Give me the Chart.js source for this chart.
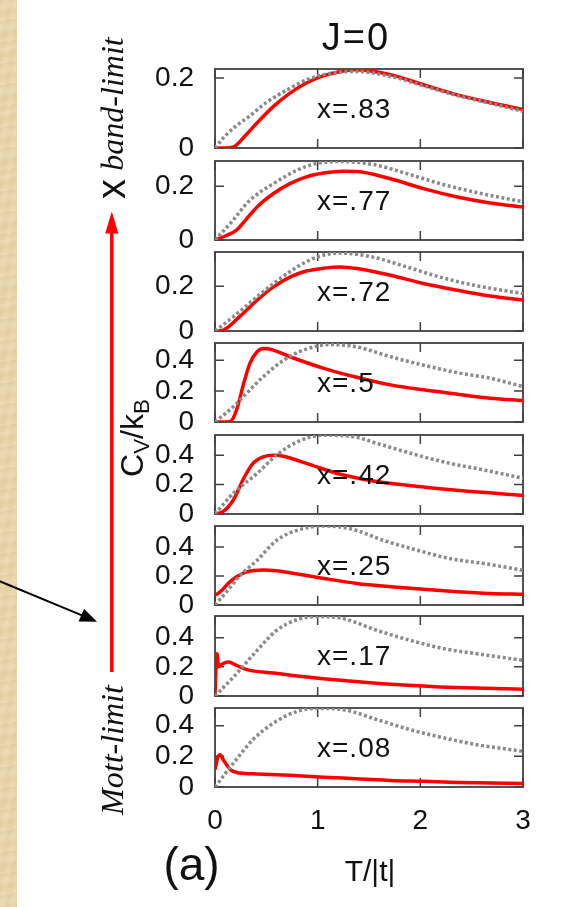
<!DOCTYPE html>
<html>
<head>
<meta charset="utf-8">
<script src="https://cdn.jsdelivr.net/npm/chart.js@4.4.0/dist/chart.umd.min.js"></script>
<style>
  html, body { margin: 0; padding: 0; background: #ffffff; }
  body { width: 575px; height: 907px; position: relative; overflow: hidden;
         font-family: "Liberation Sans", Arial, sans-serif; color: #111; }
  #parchment { position: absolute; left: 0; top: 0; width: 17px; height: 907px;
    background:
      repeating-linear-gradient(170deg, rgba(180,150,90,0.10) 0px, rgba(255,255,255,0.10) 7px, rgba(170,140,80,0.08) 13px, rgba(255,250,230,0.12) 21px),
      repeating-linear-gradient(100deg, rgba(200,170,110,0.10) 0px, rgba(255,255,255,0.08) 5px, rgba(190,160,100,0.10) 11px),
      #e9d6aa; }
  canvas.panel { position: absolute; }
  .t { position: absolute; white-space: nowrap; line-height: 1; }
  .rot { transform: translate(-50%, -50%) rotate(-90deg); }
  .serif { font-family: "Liberation Serif", "Times New Roman", serif; font-style: italic; }
  svg { position: absolute; left: 0; top: 0; }
</style>
</head>
<body>
<div id="parchment"></div>
<div id="panels"></div>

<svg width="575" height="907">
  <!-- red vertical arrow -->
  <line x1="111.8" y1="672" x2="111.8" y2="230" stroke="#ff0000" stroke-width="3.5"/>
  <polygon points="111.8,211.5 105.2,233.5 118.4,233.5" fill="#ff0000"/>
  <!-- black pointer arrow -->
  <line x1="-2" y1="580.5" x2="82" y2="615.4" stroke="#000" stroke-width="2"/>
  <polygon points="97,621.7 78.6,621.6 84.0,608.7" fill="#000"/>
</svg>

<div class="t" style="left:356px; top:18px; font-size:38px; letter-spacing:2px; transform:translateX(-50%);">J=0</div>
<div class="t serif rot" style="left:112px; top:103.5px; font-size:32px;">band-limit</div>
<div class="t serif rot" style="left:112px; top:750px; font-size:32px;">Mott-limit</div>
<div class="t rot" style="left:111px; top:189px; font-size:40px;">x</div>
<div class="t rot" style="left:132px; top:438px; font-size:32px;">C<span style="position:relative; top:0.28em; font-size:0.7em;">V</span>/k<span style="position:relative; top:0.28em; font-size:0.7em;">B</span></div>
<div class="t" style="left:191.5px; top:841px; font-size:46px; transform:translateX(-50%);">(a)</div>
<div class="t" style="left:370px; top:856px; font-size:30px; transform:translateX(-50%);">T/|t|</div>
<div id="labels"></div>

<script>
// ---------------- DATA ----------------
// x-axis ticks (T/|t|)
const X_TICKS = [0, 1, 2, 3];
// y-axis tick sets
const Y_TICKS_SMALL = [0, 0.2];
const Y_TICKS_LARGE = [0, 0.2, 0.4];

// filling labels per panel (top to bottom)
const FILLINGS = ['x=.83', 'x=.77', 'x=.72', 'x=.5', 'x=.42', 'x=.25', 'x=.17', 'x=.08'];
// y-axis maxima per panel
const Y_MAX = [0.226, 0.294, 0.353, 0.511, 0.537, 0.545, 0.549, 0.515];

// [T/|t|, Cv/kB] pairs — gray dotted reference curves
const GRAY_83 = [[0,0],[0.1,0.035],[0.2,0.062],[0.33,0.09],[0.5,0.13],[0.73,0.171],[0.89,0.195],[1.06,0.21],[1.25,0.218],[1.38,0.219],[1.71,0.205],[2.03,0.178],[2.36,0.15],[2.68,0.128],[3,0.105]];
const GRAY_77 = [[0,0],[0.15,0.062],[0.34,0.148],[0.57,0.21],[0.8,0.26],[0.99,0.285],[1.22,0.292],[1.54,0.281],[1.87,0.247],[2.19,0.21],[2.52,0.179],[3,0.142]];
const GRAY_72 = [[0,0],[0.18,0.064],[0.41,0.153],[0.57,0.212],[0.8,0.286],[0.99,0.33],[1.22,0.348],[1.54,0.33],[1.87,0.286],[2.19,0.241],[2.52,0.205],[3,0.167]];
const GRAY_50 = [[0,0],[0.18,0.1],[0.34,0.208],[0.47,0.293],[0.67,0.4],[0.86,0.465],[1.12,0.501],[1.38,0.486],[1.71,0.422],[2.03,0.368],[2.36,0.319],[2.68,0.283],[3,0.229]];
const GRAY_42 = [[0,0],[0.18,0.142],[0.41,0.276],[0.6,0.4],[0.8,0.49],[1.06,0.535],[1.32,0.528],[1.64,0.467],[1.97,0.4],[2.29,0.344],[2.62,0.299],[3,0.243]];
const GRAY_25 = [[0,0],[0.1,0.08],[0.24,0.2],[0.41,0.309],[0.6,0.446],[0.8,0.515],[1.06,0.545],[1.32,0.526],[1.64,0.446],[1.97,0.378],[2.29,0.32],[2.62,0.286],[3,0.24]];
const GRAY_17 = [[0,0],[0.18,0.13],[0.41,0.313],[0.6,0.45],[0.8,0.524],[0.99,0.545],[1.25,0.531],[1.58,0.45],[1.9,0.382],[2.23,0.325],[2.55,0.29],[3,0.245]];
const GRAY_08 = [[0,0],[0.18,0.156],[0.37,0.309],[0.57,0.417],[0.8,0.493],[0.99,0.512],[1.25,0.504],[1.58,0.439],[1.9,0.374],[2.23,0.32],[2.55,0.276],[3,0.233]];

// [T/|t|, Cv/kB] pairs — red solid curves
const RED_83 = [[0,0],[0.1,0],[0.18,0.003],[0.31,0.04],[0.41,0.072],[0.57,0.119],[0.73,0.157],[0.89,0.186],[1.06,0.207],[1.22,0.219],[1.35,0.224],[1.5,0.221],[1.71,0.21],[2.03,0.181],[2.36,0.152],[2.68,0.13],[3,0.11]];
const RED_77 = [[0,0],[0.1,0.015],[0.21,0.037],[0.3,0.075],[0.41,0.123],[0.57,0.173],[0.73,0.21],[0.89,0.235],[1.06,0.249],[1.25,0.256],[1.38,0.255],[1.71,0.228],[2.03,0.191],[2.36,0.16],[2.68,0.138],[3,0.123]];
const RED_72 = [[0,0],[0.08,0.004],[0.24,0.064],[0.41,0.138],[0.57,0.197],[0.73,0.241],[0.89,0.268],[1.06,0.281],[1.22,0.286],[1.38,0.279],[1.71,0.249],[2.03,0.212],[2.36,0.182],[2.68,0.156],[3,0.138]];
const RED_50 = [[0,0],[0.1,0],[0.15,0.003],[0.21,0.079],[0.28,0.25],[0.34,0.379],[0.41,0.454],[0.47,0.475],[0.54,0.471],[0.73,0.422],[1.06,0.347],[1.38,0.289],[1.71,0.24],[2.03,0.208],[2.36,0.18],[2.68,0.154],[3,0.139]];
const RED_42 = [[0,0],[0.08,0.018],[0.18,0.097],[0.28,0.243],[0.37,0.344],[0.47,0.389],[0.57,0.4],[0.67,0.393],[0.89,0.344],[1.22,0.27],[1.54,0.225],[1.87,0.195],[2.19,0.172],[2.52,0.152],[2.84,0.135],[3,0.125]];
const RED_25 = [[0,0.07],[0.03,0.08],[0.07,0.103],[0.13,0.15],[0.21,0.195],[0.31,0.229],[0.47,0.242],[0.6,0.236],[0.73,0.222],[1.06,0.183],[1.38,0.149],[1.71,0.126],[2.03,0.108],[2.36,0.092],[2.68,0.08],[3,0.074]];
const RED_17 = [[0,0],[0.01,0.2],[0.02,0.29],[0.035,0.2],[0.06,0.215],[0.13,0.233],[0.21,0.21],[0.31,0.181],[0.57,0.158],[0.89,0.13],[1.22,0.108],[1.54,0.089],[1.87,0.073],[2.19,0.062],[2.52,0.055],[3,0.046]];
const RED_08 = [[0,0.113],[0.03,0.2],[0.05,0.211],[0.08,0.178],[0.15,0.113],[0.24,0.091],[0.41,0.085],[0.73,0.076],[1.06,0.063],[1.38,0.054],[1.71,0.043],[2.03,0.037],[2.36,0.03],[2.68,0.026],[3,0.022]];

const GRAY_SERIES = [GRAY_83, GRAY_77, GRAY_72, GRAY_50, GRAY_42, GRAY_25, GRAY_17, GRAY_08];
const RED_SERIES  = [RED_83, RED_77, RED_72, RED_50, RED_42, RED_25, RED_17, RED_08];
const Y_TICK_SETS = [Y_TICKS_SMALL, Y_TICKS_SMALL, Y_TICKS_SMALL, Y_TICKS_LARGE, Y_TICKS_LARGE, Y_TICKS_LARGE, Y_TICKS_LARGE, Y_TICKS_LARGE];

// ---------------- LAYOUT ----------------
const PANEL_TOPS    = [69, 161, 252, 343, 435, 526, 616, 708];
const PANEL_BOTTOMS = [148, 240, 331, 422, 514, 605, 696, 787];
const PLOT_LEFT = 215, PLOT_RIGHT = 523;
const CANVAS_LEFT = 150, PAD_T = 25, PAD_R = 25;
const FONT = '"Liberation Sans", Arial, sans-serif';

const framePlugin = {
  id: 'frame',
  beforeDatasetsDraw(chart) {
    const { ctx, chartArea: a, scales: { x, y } } = chart;
    ctx.save();
    ctx.strokeStyle = '#404040';
    ctx.lineWidth = 1.8;
    ctx.strokeRect(a.left, a.top, a.right - a.left, a.bottom - a.top);
    ctx.lineWidth = 1.5;
    ctx.beginPath();
    y.ticks.forEach(t => {
      const yy = y.getPixelForValue(t.value);
      ctx.moveTo(a.left, yy); ctx.lineTo(a.left + 9, yy);
      ctx.moveTo(a.right, yy); ctx.lineTo(a.right - 9, yy);
    });
    X_TICKS.forEach(v => {
      const xx = x.getPixelForValue(v);
      ctx.moveTo(xx, a.top); ctx.lineTo(xx, a.top + 9);
      ctx.moveTo(xx, a.bottom); ctx.lineTo(xx, a.bottom - 9);
    });
    ctx.stroke();
    ctx.restore();
  }
};

const holder = document.getElementById('panels');
const labels = document.getElementById('labels');

function zeroPad(s) { s.paddingTop = 0; s.paddingBottom = 0; s.paddingLeft = 0; s.paddingRight = 0; }

for (let i = 0; i < 8; i++) {
  const isLast = i === 7;
  const top = PANEL_TOPS[i], bottom = PANEL_BOTTOMS[i];
  const xh = isLast ? 70 : 20;
  const w = PLOT_RIGHT - CANVAS_LEFT + PAD_R;
  const h = PAD_T + (bottom - top) + xh;
  const c = document.createElement('canvas');
  c.className = 'panel';
  c.width = w; c.height = h;
  c.style.width = w + 'px'; c.style.height = h + 'px';
  c.style.left = CANVAS_LEFT + 'px';
  c.style.top = (top - PAD_T) + 'px';
  holder.appendChild(c);

  const yTicks = Y_TICK_SETS[i];
  new Chart(c.getContext('2d'), {
    type: 'line',
    data: {
      datasets: [
        {
          data: GRAY_SERIES[i].map(p => ({ x: p[0], y: p[1] })),
          borderColor: '#8a8a8a', borderWidth: 3.5, borderDash: [3, 2.5],
          pointRadius: 0, cubicInterpolationMode: 'monotone', fill: false
        },
        {
          data: RED_SERIES[i].map(p => ({ x: p[0], y: p[1] })),
          borderColor: '#ff0000', borderWidth: 3.5,
          pointRadius: 0, cubicInterpolationMode: 'monotone', fill: false
        }
      ]
    },
    options: {
      responsive: false, animation: false, events: [],
      devicePixelRatio: 1,
      layout: { padding: { top: PAD_T, right: PAD_R, left: 0, bottom: 0 } },
      plugins: { legend: { display: false }, tooltip: { enabled: false }, title: { display: false } },
      scales: {
        x: {
          type: 'linear', min: 0, max: 3,
          grid: { display: false, drawTicks: false },
          border: { display: false },
          afterBuildTicks: s => { s.ticks = X_TICKS.map(v => ({ value: v })); },
          afterFit: s => { s.height = xh; zeroPad(s); },
          ticks: {
            display: isLast, padding: 17, color: '#111',
            font: { family: FONT, size: 28 },
            callback: v => String(v)
          }
        },
        y: {
          type: 'linear', min: 0, max: Y_MAX[i],
          grid: { display: false, drawTicks: false },
          border: { display: false },
          afterBuildTicks: s => { s.ticks = yTicks.map(v => ({ value: v })); },
          afterFit: s => { s.width = PLOT_LEFT - CANVAS_LEFT; zeroPad(s); },
          ticks: {
            autoSkip: false, padding: 21, color: '#111',
            font: { family: FONT, size: 28 },
            callback: v => (v === 0 ? '0' : v.toFixed(1))
          }
        }
      }
    },
    plugins: [framePlugin]
  });

  const lab = document.createElement('div');
  lab.className = 't';
  lab.textContent = FILLINGS[i];
  lab.style.left = '317px';
  lab.style.top = (top + 26.3) + 'px';
  lab.style.fontSize = '28px';
  lab.style.letterSpacing = '1px';
  labels.appendChild(lab);
}
</script>
</body>
</html>
